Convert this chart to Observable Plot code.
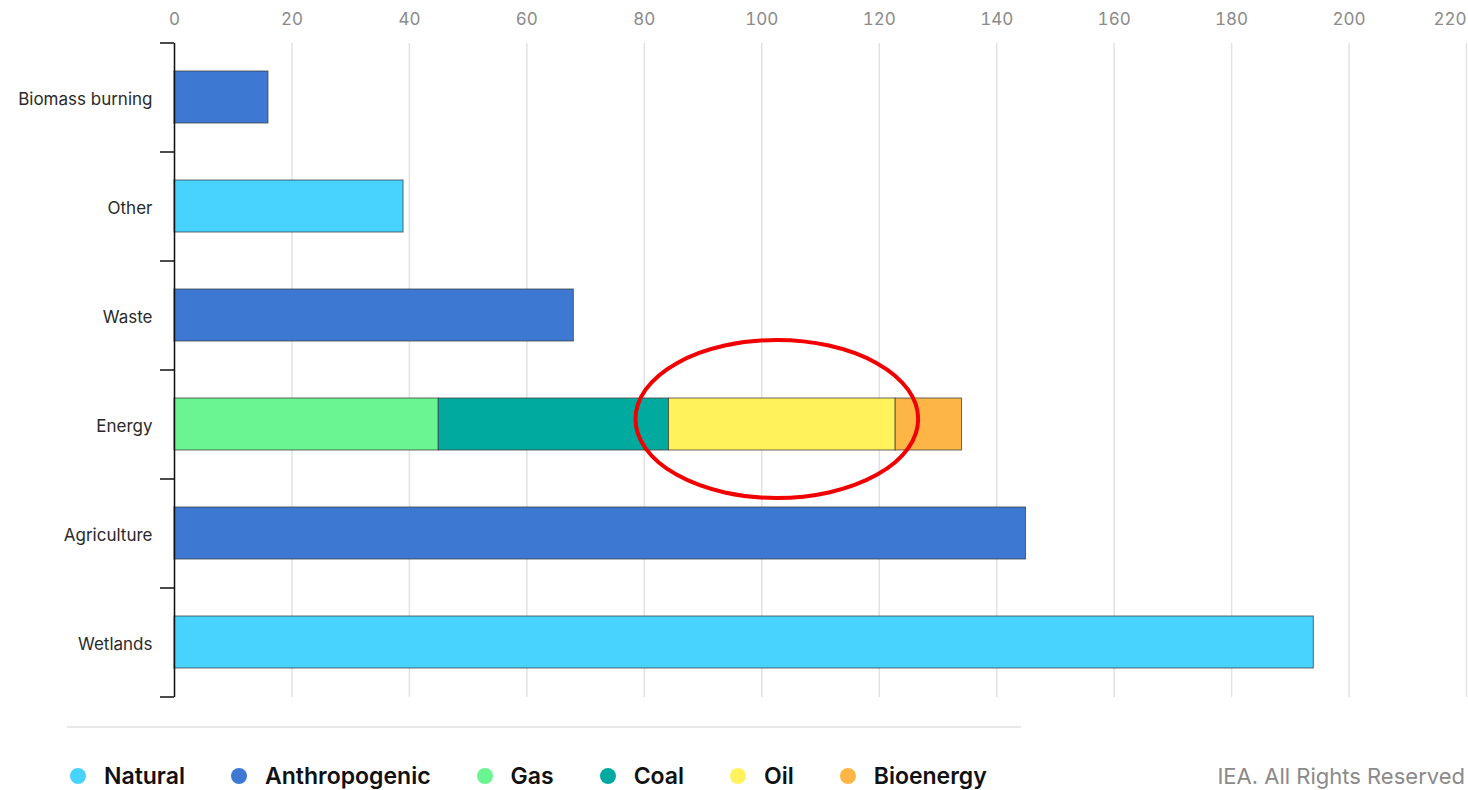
<!DOCTYPE html>
<html>
<head>
<meta charset="utf-8">
<script src="https://cdn.jsdelivr.net/npm/d3@7"></script>
<script src="https://cdn.jsdelivr.net/npm/@observablehq/plot@0.6"></script>
<style>
  html, body { margin: 0; padding: 0; background: #fff; overflow: hidden; }
  body { width: 1468px; height: 790px; position: relative; font-family: Inter, "Open Sans", sans-serif; }
  #chart { position: absolute; left: 0; top: 0; }
  #sep { position: absolute; left: 67px; top: 726px; width: 954px; height: 2px; background: #e8e8e8; }
  #legend { position: absolute; left: 70px; top: 762px; display: flex; align-items: center; font-size: 23px; font-weight: 600; color: #111; line-height: 28px; }
  .item { display: flex; align-items: center; margin-right: 46px; }
  .sw { width: 16px; height: 16px; border-radius: 50%; margin-right: 18px; }
  #credit { position: absolute; right: 3px; top: 764px; font-size: 22px; line-height: 24px; color: #8a8a8a; white-space: nowrap; }
</style>
</head>
<body>
<div id="chart"></div>
<div id="sep"></div>
<div id="legend"></div>
<div id="credit">IEA. All Rights Reserved</div>
<script>
// ---- data ----
const categories = ["Biomass burning", "Other", "Waste", "Energy", "Agriculture", "Wetlands"];
const categoryType = ["Anthropogenic", "Natural", "Anthropogenic", "Energy", "Anthropogenic", "Natural"];
const categoryValues = [16, 39, 68, null, 145, 194];
const energySources = ["Gas", "Coal", "Oil", "Bioenergy"];
const energyValues = [45, 39.2, 38.6, 11.3];
const seriesNames = ["Natural", "Anthropogenic", "Gas", "Coal", "Oil", "Bioenergy"];
const seriesColors = ["#48d3ff", "#3d79d3", "#6af592", "#00aa9f", "#fff25a", "#fdb545"];
const xTicks = [0, 20, 40, 60, 80, 100, 120, 140, 160, 180, 200, 220];
const highlighted = "Oil";

// ---- table ----
const rows = [];
categories.forEach((c, i) => {
  if (categoryType[i] === "Energy") {
    energySources.forEach((s, j) => rows.push({sector: c, series: s, value: energyValues[j]}));
  } else {
    rows.push({sector: c, series: categoryType[i], value: categoryValues[i]});
  }
});

const W = 1468, H = 700, mT = 43, mB = 3, mL = 174, mR = 2;
const step = (H - mT - mB) / categories.length;

const chart = Plot.plot({
  width: W,
  height: H,
  marginTop: mT,
  marginBottom: mB,
  marginLeft: mL,
  marginRight: mR,
  style: {fontFamily: "Inter, 'Open Sans', sans-serif", background: "white"},
  x: {domain: [0, 220]},
  y: {domain: categories, paddingInner: 0.52, paddingOuter: 0.26},
  color: {domain: seriesNames, range: seriesColors},
  marks: [
    Plot.gridX({ticks: xTicks, stroke: "#e2e2e2", strokeOpacity: 1, strokeWidth: 1.5}),
    Plot.axisX({anchor: "top", ticks: xTicks.slice(0, -1), tickSize: 0, tickPadding: 19, fontSize: 17, color: "#8a8a8a", label: null}),
    Plot.axisX({anchor: "top", ticks: xTicks.slice(-1), tickSize: 0, tickPadding: 19, fontSize: 17, color: "#8a8a8a", label: null, textAnchor: "end"}),
    Plot.axisY({anchor: "left", tickSize: 0, tickPadding: 22, fontSize: 17, fill: "#2a2a2a", label: null, dy: 2}),
    Plot.axisY({anchor: "left", tickSize: 14, tickFormat: () => "", stroke: "#111", strokeWidth: 1.5, label: null, dy: -step / 2}),
    Plot.axisY({anchor: "left", ticks: categories.slice(-1), tickSize: 14, tickFormat: () => "", stroke: "#111", strokeWidth: 1.5, label: null, dy: step / 2}),
    Plot.barX(rows, Plot.stackX({y: "sector", x: "value", fill: "series", stroke: "#3a3a3a", strokeOpacity: 0.75, strokeWidth: 1, inset: 0})),
    Plot.ruleX([0], {stroke: "#111", strokeWidth: 1.5})
  ]
});
document.getElementById("chart").appendChild(chart);

// ---- annotation ellipse around the highlighted energy segment ----
const xs = chart.scale("x"), ys = chart.scale("y");
const hi = energySources.indexOf(highlighted);
const start = d3.sum(energyValues.slice(0, hi));
const end = start + energyValues[hi];
const x0 = xs.apply(start), x1 = xs.apply(end);
const cy = ys.apply("Energy") + ys.bandwidth / 2 - 5;
d3.select(chart).append("ellipse")
  .attr("cx", (x0 + x1) / 2 - 5)
  .attr("cy", cy)
  .attr("rx", (x1 - x0) / 2 + 28)
  .attr("ry", 79)
  .attr("fill", "none")
  .attr("stroke", "#f00000")
  .attr("stroke-width", 4);

// ---- legend ----
const legend = document.getElementById("legend");
seriesNames.forEach((n, i) => {
  const it = document.createElement("div");
  it.className = "item";
  const sw = document.createElement("div");
  sw.className = "sw";
  sw.style.background = seriesColors[i];
  const t = document.createElement("span");
  t.textContent = n;
  it.appendChild(sw); it.appendChild(t);
  legend.appendChild(it);
});
</script>
</body>
</html>
